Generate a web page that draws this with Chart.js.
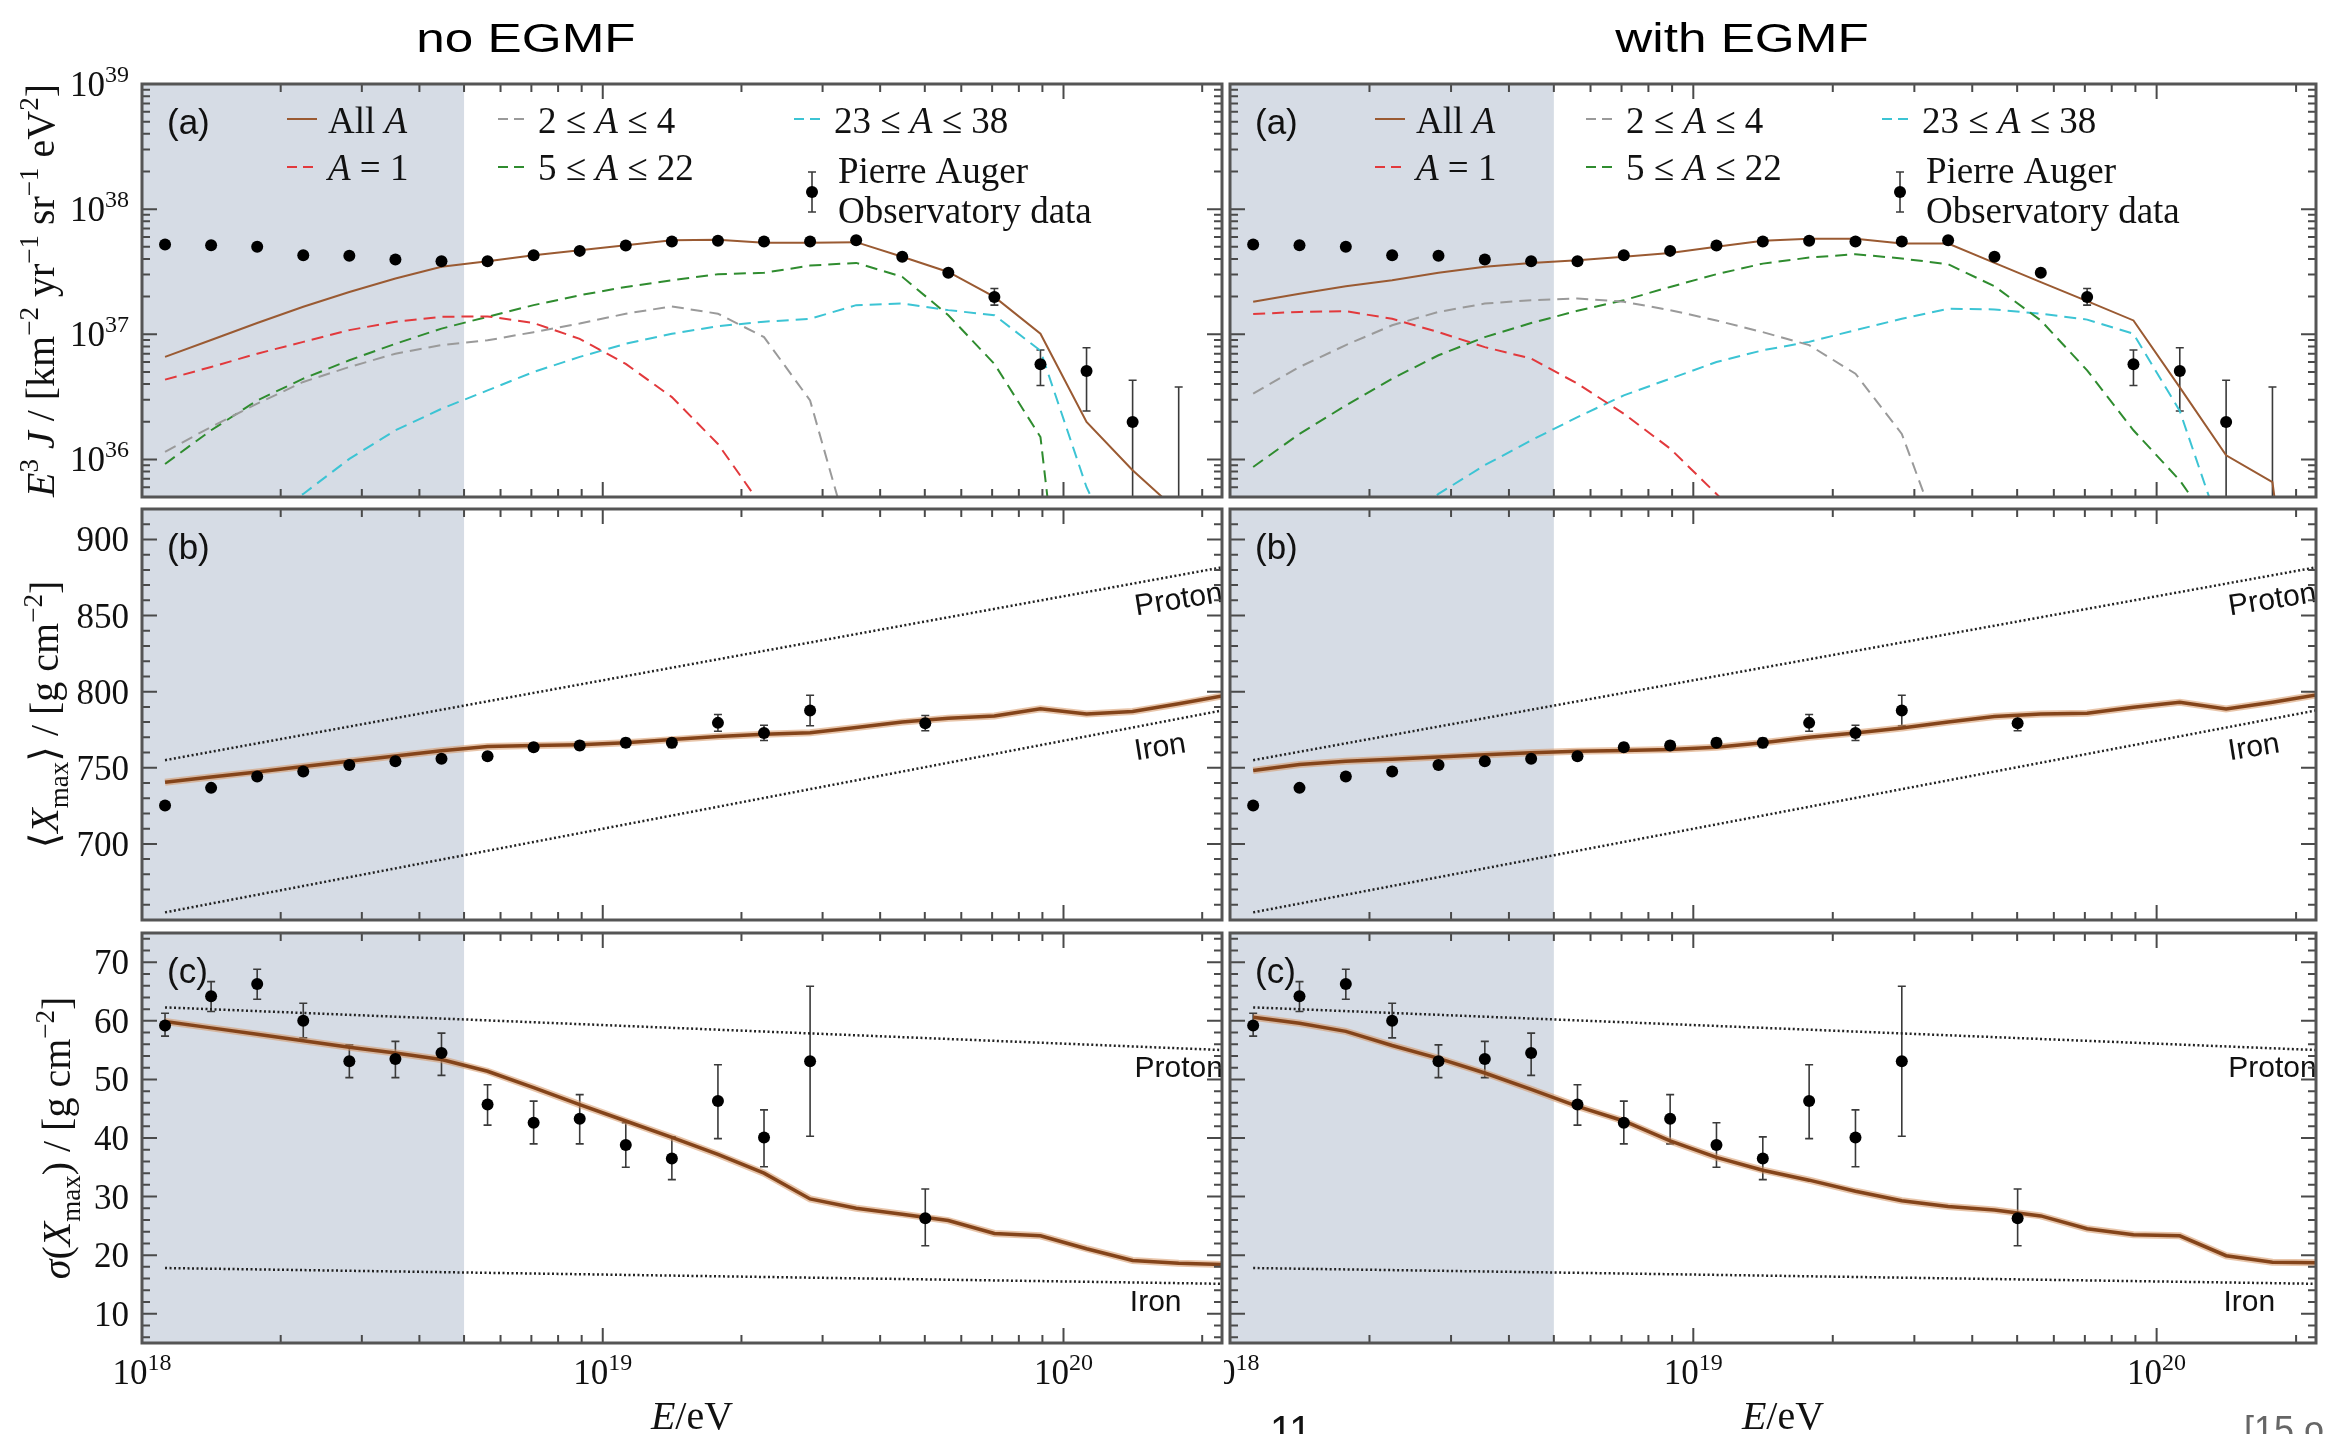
<!DOCTYPE html>
<html>
<head>
<meta charset="utf-8">
<title>Spectrum and composition fit: no EGMF vs with EGMF</title>
<script src="https://cdn.jsdelivr.net/npm/chart.js@4.4.1/dist/chart.umd.min.js"></script>
<style>
  html, body { margin: 0; padding: 0; background: #fff; }
  body { position: relative; width: 2329px; height: 1434px; overflow: hidden;
         font-family: "Liberation Sans", Arial, sans-serif; }
  canvas { position: absolute; }
  .head { position: absolute; top: 18px; font-size: 41px; line-height: 41px; white-space: nowrap;
          transform: translateX(-50%) scaleX(1.25); color: #000; }
  .stray { position: absolute; white-space: nowrap; line-height: 1; }
</style>
</head>
<body>
<canvas id="specL"></canvas>
<canvas id="specR"></canvas>
<canvas id="xmaxL"></canvas>
<canvas id="xmaxR"></canvas>
<canvas id="sigL"></canvas>
<canvas id="sigR"></canvas>
<div class="head" style="left:526px">no EGMF</div>
<div class="head" style="left:1742px">with EGMF</div>
<div class="stray" style="left:1270px; top:1410px; font-size:40px; color:#111">11</div>
<div class="stray" style="left:2244px; top:1412px; font-size:36px; color:#666">[15 o</div>

<script>
// ===== DATA =====

// energy bins, log10(E/eV)
const lgE = [18.05, 18.15, 18.25, 18.35, 18.45, 18.55, 18.65, 18.75, 18.85, 18.95,
             19.05, 19.15, 19.25, 19.35, 19.45, 19.55, 19.65, 19.75, 19.85, 19.95,
             20.05, 20.15, 20.25, 20.35];
const lgXmax = [18.05, 18.15, 18.25, 18.35, 18.45, 18.55, 18.65, 18.75, 18.85, 18.95,
                19.05, 19.15, 19.25, 19.35, 19.45, 19.7];
const lgRef = [18.05, 20.35];
const SHADE_END = 18.699;   // 5e18 eV, fit threshold
const LG_MIN = 18, LG_MAX = 20.344;

// (a) E^3 J, Pierre Auger data
const augerJ   = [5.21e37, 5.15e37, 5.0e37, 4.29e37, 4.24e37, 3.96e37, 3.84e37, 3.84e37, 4.29e37, 4.64e37,
                  5.12e37, 5.51e37, 5.58e37, 5.51e37, 5.51e37, 5.65e37, 4.16e37, 3.10e37, 1.99e37, 5.75e36,
                  5.09e36, 1.99e36, null, null];
const augerJLo = [null, null, null, null, null, null, null, null, null, null,
                  null, null, null, null, null, null, null, null, 1.71e37, 3.9e36,
                  2.44e36, 1e35, 1e35, 1e35];
const augerJHi = [null, null, null, null, null, null, null, null, null, null,
                  null, null, null, null, null, null, null, null, 2.32e37, 7.5e36,
                  7.8e36, 4.29e36, 3.79e36, 6.08e36];

// (a) model, no EGMF
const allA_noB = [6.6e36, 9.0e36, 1.23e37, 1.66e37, 2.18e37, 2.79e37, 3.46e37, 3.84e37, 4.29e37, 4.70e37,
                  5.15e37, 5.65e37, 5.70e37, 5.38e37, 5.38e37, 5.45e37, 4.16e37, 3.15e37, 1.99e37, 1.01e37,
                  1.99e36, 8.2e35, 3.8e35, 1.6e35];
const h_noB    = [4.34e36, 5.48e36, 7.0e36, 8.7e36, 1.08e37, 1.26e37, 1.38e37, 1.39e37, 1.23e37, 9.2e36,
                  5.8e36, 3.15e36, 1.33e36, 4.0e35, 1e35, null, null, null, null, null,
                  null, null, null, null];
const he_noB   = [1.15e36, 1.82e36, 2.79e36, 4.16e36, 5.48e36, 7.0e36, 8.2e36, 8.95e36, 1.04e37, 1.22e37,
                  1.46e37, 1.67e37, 1.46e37, 9.5e36, 2.96e36, 1.5e35, null, null, null, null,
                  null, null, null, null];
const cno_noB  = [9.2e35, 1.71e36, 2.96e36, 4.42e36, 6.2e36, 8.4e36, 1.11e37, 1.38e37, 1.71e37, 2.05e37,
                  2.39e37, 2.70e37, 3.02e37, 3.10e37, 3.54e37, 3.72e37, 2.88e37, 1.42e37, 5.8e36, 1.51e36,
                  1e33, null, null, null];
const si_noB   = [null, 1.5e35, 3.25e35, 5.3e35, 1.01e36, 1.71e36, 2.54e36, 3.56e36, 5.0e36, 6.6e36,
                  8.4e36, 1.01e37, 1.16e37, 1.26e37, 1.33e37, 1.71e37, 1.76e37, 1.56e37, 1.42e37, 7.4e36,
                  6e35, 1e35, null, null];

// (a) model, with EGMF
const allA_B = [1.82e37, 2.11e37, 2.42e37, 2.70e37, 3.10e37, 3.46e37, 3.72e37, 3.91e37, 4.16e37, 4.47e37,
                5.0e37, 5.58e37, 5.79e37, 5.79e37, 5.31e37, 5.31e37, 3.72e37, 2.61e37, 1.84e37, 1.29e37,
                3.77e36, 1.08e36, 6.6e35, 1e33];
const h_B    = [1.45e37, 1.51e37, 1.53e37, 1.33e37, 1.04e37, 7.9e36, 6.4e36, 4.03e36, 2.32e36, 1.22e36,
                5.3e35, 2.2e35, null, null, null, null, null, null, null, null,
                null, null, null, null];
const he_B   = [3.35e36, 5.48e36, 8.2e36, 1.18e37, 1.51e37, 1.76e37, 1.87e37, 1.93e37, 1.82e37, 1.56e37,
                1.29e37, 1.04e37, 8.2e36, 4.84e36, 1.6e36, 1.6e35, null, null, null, null,
                null, null, null, null];
const cno_B  = [8.7e35, 1.6e36, 2.7e36, 4.42e36, 6.8e36, 9.5e36, 1.23e37, 1.54e37, 1.87e37, 2.39e37,
                3.02e37, 3.67e37, 4.10e37, 4.37e37, 4.03e37, 3.63e37, 2.42e37, 1.29e37, 5.15e36, 1.71e36,
                6.8e35, 2e35, null, null];
const si_B   = [null, null, null, 2.7e35, 5.3e35, 9.0e35, 1.42e36, 2.18e36, 3.25e36, 4.42e36,
                6.0e36, 7.45e36, 8.7e36, 1.08e37, 1.33e37, 1.60e37, 1.58e37, 1.46e37, 1.31e37, 1.01e37,
                2.44e36, 2e35, null, null];

// (b) <Xmax>
const augerXmax   = [725.2, 736.8, 744.2, 747.5, 751.9, 754.3, 755.9, 757.6, 763.5, 764.6, 766.4, 766.4, 779.5, 772.9, 787.6, 779.3];
const augerXmaxLo = [723.5, 735.0, 742.3, 745.6, 750.0, 752.3, 753.8, 755.5, 761.0, 762.0, 763.6, 763.4, 774.0, 767.9, 777.6, 774.3];
const augerXmaxHi = [726.9, 738.6, 746.1, 749.4, 753.8, 756.3, 758.0, 759.7, 766.0, 767.2, 769.2, 769.4, 785.0, 777.9, 797.6, 784.3];
const xmax_noB = [740.5, 743.9, 747.3, 750.8, 754.3, 757.7, 761.2, 764.0, 764.6, 765.2, 766.4, 768.5,
                  770.5, 772.0, 773.0, 776.5, 780.0, 782.5, 784.0, 788.7, 785.4, 787.0, 792.0, 797.5];
const xmax_B   = [748.2, 752.1, 754.3, 755.6, 757.0, 758.5, 759.8, 760.9, 761.3, 762.0, 763.5, 766.4,
                  770.1, 772.9, 776.2, 780.0, 783.7, 785.4, 785.9, 789.8, 793.1, 788.7, 793.1, 798.1];
const protonXmax = [755, 882];
const ironXmax   = [655, 788];

// (c) sigma(Xmax)
const augerSigma   = [59.2, 64.2, 66.3, 60.0, 53.1, 53.5, 54.5, 45.7, 42.6, 43.3, 38.8, 36.5, 46.3, 40.1, 53.1, 26.3];
const augerSigmaLo = [57.4, 61.6, 63.7, 57.1, 50.3, 50.3, 50.7, 42.2, 39.0, 39.0, 35.0, 32.9, 39.9, 35.1, 40.3, 21.6];
const augerSigmaHi = [61.3, 66.7, 68.8, 63.0, 55.9, 56.5, 57.9, 49.1, 46.3, 47.4, 42.6, 40.2, 52.5, 44.8, 65.9, 31.3];
const sigma_noB = [59.9, 58.8, 57.7, 56.6, 55.5, 54.5, 53.4, 51.4, 48.6, 45.7, 42.9, 40.1,
                   37.2, 34.0, 29.6, 28.0, 27.0, 25.9, 23.7, 23.3, 21.1, 19.1, 18.6, 18.4];
const sigma_B   = [60.6, 59.6, 58.2, 55.8, 53.6, 51.1, 48.3, 45.4, 42.9, 39.5, 36.7, 34.5,
                   32.8, 30.9, 29.3, 28.3, 27.7, 26.7, 24.5, 23.5, 23.3, 19.9, 18.8, 18.7];
const protonSigma = [62.3, 55.0];
const ironSigma   = [17.8, 15.1];

// ===== STYLE =====
const SERIF = '"Liberation Serif", "DejaVu Serif", serif';
const SANS = '"Liberation Sans", Arial, sans-serif';
const COL = { brown: '#9a5a32', brownThick: '#84441a', halo: 'rgba(214,150,100,0.55)', red: '#e2393c',
              gray: '#9a9a9a', green: '#2f8c2f', cyan: '#3cc4d4', shade: '#d6dce5', frame: '#555', tick: '#4a4a4a' };
const DASH = [12, 7];

const COLS = [
  { left: 0, width: 1228, padL: 142, padR: 3, labels: true },
  { left: 1224, width: 1105, padL: 2, padR: 13, labels: false }
];
const ROWS = [
  { top: 0, height: 505, padT: 84, padB: 8 },
  { top: 503, height: 425, padT: 5, padB: 8 },
  { top: 926, height: 508, padT: 7, padB: 91 }
];

// ===== helpers =====
const pts = (xs, ys) => xs.map((x, i) => ({ x, y: ys[i] }));

function line(xs, ys, color, w, dash) {
  return { data: pts(xs, ys), showLine: true, borderColor: color, borderWidth: w,
           borderDash: dash || [], pointRadius: 0, fill: false, tension: 0 };
}
function dots(xs, ys) {
  return { data: pts(xs, ys), showLine: false, pointRadius: 6, pointBackgroundColor: '#000',
           pointBorderWidth: 0, backgroundColor: '#000' };
}

function segFont(s, size) {
  const px = (s.sup || s.sub) ? Math.round(size * 0.68) : size;
  return (s.i ? 'italic ' : '') + px + 'px ' + SERIF;
}
function richWidth(ctx, segs, size) {
  let w = 0;
  segs.forEach(s => { ctx.font = segFont(s, size); w += ctx.measureText(s.t).width; });
  return w;
}
function drawRich(ctx, segs, x, y, size, align) {
  const w = richWidth(ctx, segs, size);
  let cx = align === 'center' ? x - w / 2 : align === 'right' ? x - w : x;
  ctx.textAlign = 'left';
  ctx.textBaseline = 'alphabetic';
  segs.forEach(s => {
    ctx.font = segFont(s, size);
    const dy = s.sup ? -size * 0.4 : s.sub ? size * 0.24 : 0;
    ctx.fillText(s.t, cx, y + dy);
    cx += ctx.measureText(s.t).width;
  });
}
const pow10 = n => [{ t: '10' }, { t: String(n), sup: 1 }];

// axis decoration positions
const xMajor = [18, 19, 20];
const xMinor = [];
[18, 19, 20].forEach(n => { for (let k = 2; k <= 9; k++) xMinor.push(n + Math.log10(k)); });

const specMajor = [1e36, 1e37, 1e38, 1e39];
const specMinor = [];
[35, 36, 37, 38].forEach(n => { for (let k = 2; k <= 9; k++) specMinor.push(k * Math.pow(10, n)); });

const xmaxMajor = [700, 750, 800, 850, 900];
const xmaxMinor = [];
for (let v = 660; v <= 910; v += 10) if (v % 50) xmaxMinor.push(v);

const sigMajor = [10, 20, 30, 40, 50, 60, 70];
const sigMinor = [];
for (let v = 6; v <= 74; v += 2) if (v % 10) sigMinor.push(v);

// ===== panel decoration plugin =====
const panelDeco = {
  id: 'panelDeco',
  beforeDatasetsDraw(chart, args, o) {
    const { ctx, chartArea: a } = chart;
    const xs = chart.scales.x, ys = chart.scales.y;
    ctx.save();
    // fit-threshold shading
    ctx.fillStyle = COL.shade;
    ctx.fillRect(a.left, a.top, xs.getPixelForValue(SHADE_END) - a.left, a.bottom - a.top);
    ctx.beginPath();
    ctx.rect(a.left, a.top, a.right - a.left, a.bottom - a.top);
    ctx.clip();
    // error bars
    ctx.strokeStyle = '#3a3a3a';
    ctx.lineWidth = 1.6;
    o.err.xs.forEach((xv, i) => {
      const lo = o.err.lo[i], hi = o.err.hi[i];
      if (lo == null || hi == null) return;
      const px = xs.getPixelForValue(xv);
      const p1 = ys.getPixelForValue(lo), p2 = ys.getPixelForValue(hi);
      ctx.beginPath();
      ctx.moveTo(px, p1); ctx.lineTo(px, p2);
      ctx.moveTo(px - 4, p1); ctx.lineTo(px + 4, p1);
      ctx.moveTo(px - 4, p2); ctx.lineTo(px + 4, p2);
      ctx.stroke();
    });
    // Proton / Iron labels
    ctx.fillStyle = '#111';
    ctx.font = '30px ' + SANS;
    ctx.textAlign = 'center';
    ctx.textBaseline = 'middle';
    (o.refLabels || []).forEach(l => {
      ctx.save();
      ctx.translate(xs.getPixelForValue(l.x), ys.getPixelForValue(l.y));
      ctx.rotate(l.rot * Math.PI / 180);
      ctx.fillText(l.text, 0, 0);
      ctx.restore();
    });
    ctx.restore();
  },
  afterDraw(chart, args, o) {
    const { ctx, chartArea: a } = chart;
    const xs = chart.scales.x, ys = chart.scales.y;
    ctx.save();

    // inward ticks on all four sides
    ctx.strokeStyle = COL.tick;
    ctx.lineWidth = 2;
    ctx.beginPath();
    const tx = (v, len) => {
      const p = xs.getPixelForValue(v);
      if (p < a.left - 0.5 || p > a.right + 0.5) return;
      ctx.moveTo(p, a.bottom); ctx.lineTo(p, a.bottom - len);
      ctx.moveTo(p, a.top); ctx.lineTo(p, a.top + len);
    };
    const ty = (v, len) => {
      const p = ys.getPixelForValue(v);
      if (p < a.top - 0.5 || p > a.bottom + 0.5) return;
      ctx.moveTo(a.left, p); ctx.lineTo(a.left + len, p);
      ctx.moveTo(a.right, p); ctx.lineTo(a.right - len, p);
    };
    xMajor.forEach(v => tx(v, 15));
    xMinor.forEach(v => tx(v, 8));
    o.yMajor.forEach(v => ty(v, 15));
    o.yMinor.forEach(v => ty(v, 8));
    ctx.stroke();

    // frame
    ctx.strokeStyle = COL.frame;
    ctx.lineWidth = 3;
    ctx.strokeRect(a.left, a.top, a.right - a.left, a.bottom - a.top);

    ctx.fillStyle = '#111';
    // panel tag
    ctx.font = '35px ' + SANS;
    ctx.textAlign = 'left';
    ctx.textBaseline = 'alphabetic';
    ctx.fillText(o.tag, a.left + 25, a.top + 50);

    // y tick labels + title (left column only)
    if (o.labels) {
      o.yMajor.forEach(v => {
        const p = ys.getPixelForValue(v);
        drawRich(ctx, o.yText(v), a.left - 13, p + 12, 35, 'right');
      });
      ctx.save();
      ctx.translate(o.yTitleX, (a.top + a.bottom) / 2);
      ctx.rotate(-Math.PI / 2);
      drawRich(ctx, o.yTitle, 0, 0, 40, 'center');
      ctx.restore();
    }

    // x tick labels + title (bottom row only)
    if (o.xLabels) {
      xMajor.forEach(v => {
        drawRich(ctx, pow10(v), xs.getPixelForValue(v), a.bottom + 41, 35, 'center');
      });
      drawRich(ctx, [{ t: 'E', i: 1 }, { t: '/eV' }], (a.left + a.right) / 2 + 10, a.bottom + 86, 40, 'center');
    }

    // legend (spectrum row)
    if (o.legend) {
      const L = a.left, T = a.top;
      const sample = (x0, y0, color, dash, w) => {
        ctx.save();
        ctx.strokeStyle = color; ctx.lineWidth = w; ctx.setLineDash(dash);
        ctx.beginPath(); ctx.moveTo(x0, y0); ctx.lineTo(x0 + 30, y0); ctx.stroke();
        ctx.restore();
      };
      const A = { t: 'A', i: 1 };
      sample(L + 145, T + 35, COL.brown, [], 2);
      drawRich(ctx, [{ t: 'All ' }, A], L + 186, T + 49, 37, 'left');
      sample(L + 145, T + 83, COL.red, [10, 6], 2);
      drawRich(ctx, [A, { t: ' = 1' }], L + 186, T + 96, 37, 'left');
      sample(L + 356, T + 35, COL.gray, [10, 6], 2);
      drawRich(ctx, [{ t: '2 ≤ ' }, A, { t: ' ≤ 4' }], L + 396, T + 49, 37, 'left');
      sample(L + 356, T + 83, COL.green, [10, 6], 2);
      drawRich(ctx, [{ t: '5 ≤ ' }, A, { t: ' ≤ 22' }], L + 396, T + 96, 37, 'left');
      sample(L + 652, T + 35, COL.cyan, [10, 6], 2);
      drawRich(ctx, [{ t: '23 ≤ ' }, A, { t: ' ≤ 38' }], L + 692, T + 49, 37, 'left');
      // data marker
      const ex = L + 670;
      ctx.strokeStyle = '#3a3a3a'; ctx.lineWidth = 1.6;
      ctx.beginPath();
      ctx.moveTo(ex, T + 88); ctx.lineTo(ex, T + 128);
      ctx.moveTo(ex - 4, T + 88); ctx.lineTo(ex + 4, T + 88);
      ctx.moveTo(ex - 4, T + 128); ctx.lineTo(ex + 4, T + 128);
      ctx.stroke();
      ctx.fillStyle = '#000';
      ctx.beginPath(); ctx.arc(ex, T + 108, 6, 0, Math.PI * 2); ctx.fill();
      ctx.fillStyle = '#111';
      drawRich(ctx, [{ t: 'Pierre Auger' }], L + 696, T + 99, 37, 'left');
      drawRich(ctx, [{ t: 'Observatory data' }], L + 696, T + 139, 37, 'left');
    }
    ctx.restore();
  }
};

// ===== build panels =====
function buildPanel(id, col, row, cfg) {
  const cv = document.getElementById(id);
  cv.width = col.width; cv.height = row.height;
  cv.style.left = col.left + 'px'; cv.style.top = row.top + 'px';
  cv.style.width = col.width + 'px'; cv.style.height = row.height + 'px';
  return new Chart(cv, {
    type: 'scatter',
    data: { datasets: cfg.datasets },
    options: {
      responsive: false,
      animation: false,
      devicePixelRatio: 1,
      events: [],
      layout: { padding: { left: col.padL, right: col.padR, top: row.padT, bottom: row.padB } },
      scales: {
        x: { type: 'linear', min: LG_MIN, max: LG_MAX, display: false },
        y: { type: cfg.yType, min: cfg.yMin, max: cfg.yMax, display: false }
      },
      plugins: {
        legend: { display: false },
        tooltip: { enabled: false },
        panelDeco: Object.assign({ labels: col.labels }, cfg.deco)
      }
    },
    plugins: [panelDeco]
  });
}

function specPanel(id, col, allA, h, he, cno, si) {
  buildPanel(id, col, ROWS[0], {
    yType: 'logarithmic', yMin: 5.01e35, yMax: 1e39,
    datasets: [
      dots(lgE, augerJ),
      line(lgE, allA, COL.brown, 2),
      line(lgE, h, COL.red, 2, DASH),
      line(lgE, he, COL.gray, 2, DASH),
      line(lgE, cno, COL.green, 2, DASH),
      line(lgE, si, COL.cyan, 2, DASH)
    ],
    deco: {
      tag: '(a)', legend: true,
      yMajor: specMajor, yMinor: specMinor,
      yText: v => pow10(Math.round(Math.log10(v))),
      yTitleX: 54,
      yTitle: [{ t: 'E', i: 1 }, { t: '3', sup: 1 }, { t: ' ' }, { t: 'J', i: 1 }, { t: ' / [km' },
               { t: '−2', sup: 1 }, { t: ' yr' }, { t: '−1', sup: 1 }, { t: ' sr' }, { t: '−1', sup: 1 },
               { t: ' eV' }, { t: '2', sup: 1 }, { t: ']' }],
      err: { xs: lgE, lo: augerJLo, hi: augerJHi }
    }
  });
}

function xmaxPanel(id, col, model) {
  buildPanel(id, col, ROWS[1], {
    yType: 'linear', yMin: 650, yMax: 920,
    datasets: [
      dots(lgXmax, augerXmax),
      line(lgE, model, COL.brownThick, 3.5),
      line(lgE, model, COL.halo, 7),
      line(lgRef, protonXmax, '#222', 2.5, [2, 2.5]),
      line(lgRef, ironXmax, '#222', 2.5, [2, 2.5])
    ],
    deco: {
      tag: '(b)',
      yMajor: xmaxMajor, yMinor: xmaxMinor,
      yText: v => [{ t: String(v) }],
      yTitleX: 58,
      yTitle: [{ t: '⟨' }, { t: 'X', i: 1 }, { t: 'max', sub: 1 }, { t: '⟩ / [g cm' }, { t: '−2', sup: 1 }, { t: ']' }],
      err: { xs: lgXmax, lo: augerXmaxLo, hi: augerXmaxHi },
      refLabels: [{ text: 'Proton', x: 20.25, y: 860, rot: -9 }, { text: 'Iron', x: 20.21, y: 763, rot: -9 }]
    }
  });
}

function sigmaPanel(id, col, model) {
  buildPanel(id, col, ROWS[2], {
    yType: 'linear', yMin: 5, yMax: 75,
    datasets: [
      dots(lgXmax, augerSigma),
      line(lgE, model, COL.brownThick, 3.5),
      line(lgE, model, COL.halo, 7),
      line(lgRef, protonSigma, '#222', 2.5, [2, 2.5]),
      line(lgRef, ironSigma, '#222', 2.5, [2, 2.5])
    ],
    deco: {
      tag: '(c)', xLabels: true,
      yMajor: sigMajor, yMinor: sigMinor,
      yText: v => [{ t: String(v) }],
      yTitleX: 70,
      yTitle: [{ t: 'σ', i: 1 }, { t: '(' }, { t: 'X', i: 1 }, { t: 'max', sub: 1 }, { t: ') / [g cm' }, { t: '−2', sup: 1 }, { t: ']' }],
      err: { xs: lgXmax, lo: augerSigmaLo, hi: augerSigmaHi },
      refLabels: [{ text: 'Proton', x: 20.25, y: 51.9, rot: 0 }, { text: 'Iron', x: 20.2, y: 11.9, rot: 0 }]
    }
  });
}

specPanel('specL', COLS[0], allA_noB, h_noB, he_noB, cno_noB, si_noB);
specPanel('specR', COLS[1], allA_B, h_B, he_B, cno_B, si_B);
xmaxPanel('xmaxL', COLS[0], xmax_noB);
xmaxPanel('xmaxR', COLS[1], xmax_B);
sigmaPanel('sigL', COLS[0], sigma_noB);
sigmaPanel('sigR', COLS[1], sigma_B);
</script>
</body>
</html>
